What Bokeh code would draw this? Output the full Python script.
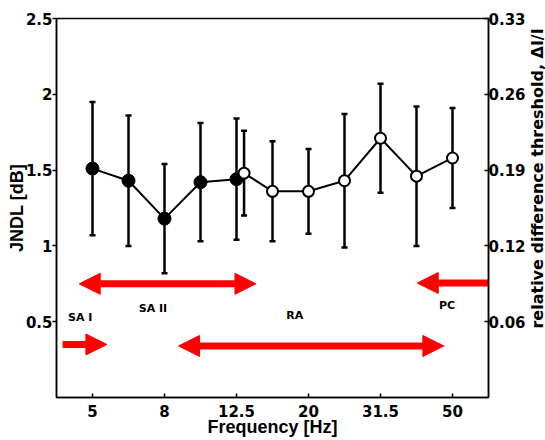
import math
from bokeh.plotting import figure
from bokeh.layouts import row
from bokeh.models import (Range1d, LinearAxis, FixedTicker, Arrow, NormalHead,
                          Whisker, ColumnDataSource, Label, TeeHead)
from bokeh.embed import file_html
from bokeh.resources import INLINE

# one-third octave bands (Hz); x positions are band indices
bands = ["5", "6.3", "8", "10", "12.5", "16", "20", "25", "31.5", "40", "50"]
tick_bands = ["5", "8", "12.5", "20", "31.5", "50"]

# filled series
sa_bands = ["5", "6.3", "8", "10", "12.5"]
sa_mean = [1.51, 1.43, 1.18, 1.42, 1.44]
sa_upper = [1.95, 1.86, 1.54, 1.81, 1.84]
sa_lower = [1.07, 1.00, 0.82, 1.03, 1.04]

# open series
ra_bands = ["12.5", "16", "20", "25", "31.5", "40", "50"]
ra_mean = [1.48, 1.36, 1.36, 1.43, 1.71, 1.46, 1.58]
ra_upper = [1.76, 1.69, 1.64, 1.87, 2.07, 1.92, 1.91]
ra_lower = [1.20, 1.03, 1.08, 0.99, 1.35, 1.00, 1.25]

# left ticks (JNDL) and right-axis relative threshold labels
jndl_ticks = [0.5, 1.0, 1.5, 2.0, 2.5]
jndl_labels = ["0.5", "1", "1.5", "2", "2.5"]
rel_labels = ["0.06", "0.12", "0.19", "0.26", "0.33"]

# receptor channel ranges (band-index units) and levels (dB axis)
rec_names = ["SA I", "SA II", "RA", "PC"]
rec_start = [-0.83, -0.37, 2.39, 11.0]
rec_end = [0.40, 4.54, 9.76, 9.02]
rec_level = [0.35, 0.75, 0.34, 0.755]
rec_double = [False, True, True, False]
rec_label_x = [-0.34, 1.68, 5.62, 9.85]
rec_label_y = [0.525, 0.585, 0.54, 0.607]

OVERLAP_SHIFT = 0.21  # open marker at the shared 12.5 Hz band sits slightly right

LABEL_FONT = "Liberation Sans"
TICK_FONT = "DejaVu Sans"

sa_x = [bands.index(b) for b in sa_bands]
ra_x = [bands.index(b) + (OVERLAP_SHIFT if b in sa_bands else 0) for b in ra_bands]

p = figure(width=528, height=440, x_range=Range1d(-1, 11), y_range=Range1d(0, 2.5),
           output_backend="svg", toolbar_location=None,
           min_border_left=56, min_border_right=37, min_border_top=18, min_border_bottom=43)
p.xgrid.visible = False
p.ygrid.visible = False
p.outline_line_color = "black"
p.outline_line_width = 1.5
p.background_fill_color = "white"
p.border_fill_color = "white"

# receptor arrows and names
for name, xs, xe, lv, dbl, lx, ly in zip(rec_names, rec_start, rec_end, rec_level,
                                          rec_double, rec_label_x, rec_label_y):
    head = lambda: NormalHead(size=21, fill_color="red", line_color="red", line_width=1)
    arr = Arrow(x_start=xs, y_start=lv, x_end=xe, y_end=lv, line_color="red", line_width=7,
                end=head(), start=head() if dbl else None, level="underlay")
    p.add_layout(arr)
    p.add_layout(Label(x=lx, y=ly, text=name, text_font=TICK_FONT, text_font_style="bold",
                       text_font_size="11px", text_align="center", text_baseline="middle",
                       text_color="black"))

# error bars
src_sa = ColumnDataSource(dict(x=sa_x, m=sa_mean, u=sa_upper, l=sa_lower))
src_ra = ColumnDataSource(dict(x=ra_x, m=ra_mean, u=ra_upper, l=ra_lower))
for src in (src_sa, src_ra):
    w = Whisker(source=src, base="x", upper="u", lower="l", dimension="height",
                line_color="black", line_width=2.5, level="underlay",
                upper_head=TeeHead(size=6, line_width=2.5, line_color="black"),
                lower_head=TeeHead(size=6, line_width=2.5, line_color="black"))
    p.add_layout(w)

p.line("x", "m", source=src_sa, line_color="black", line_width=2)
p.line("x", "m", source=src_ra, line_color="black", line_width=2)
p.scatter("x", "m", source=src_sa, size=13, fill_color="black", line_color="black")
p.scatter("x", "m", source=src_ra, size=11, fill_color="white", line_color="black", line_width=2)

# axes
tick_pos = [bands.index(b) for b in tick_bands]
xa = p.xaxis[0]
xa.ticker = FixedTicker(ticks=tick_pos)
xa.major_label_overrides = {t: b for t, b in zip(tick_pos, tick_bands)}
xa.axis_label = "Frequency [Hz]"
xa.major_tick_in = 4
xa.major_tick_out = 0
xa.major_label_standoff = 7
xa.axis_label_standoff = -3

ya = p.yaxis[0]
ya.ticker = FixedTicker(ticks=jndl_ticks)
ya.major_label_overrides = {t: s for t, s in zip(jndl_ticks, jndl_labels)}
ya.axis_label = "JNDL [dB]"
ya.major_tick_in = 0
ya.major_tick_out = 4
ya.major_label_standoff = 0
ya.axis_label_standoff = -4

ra_axis = LinearAxis(ticker=FixedTicker(ticks=jndl_ticks),
                     major_label_overrides={t: s for t, s in zip(jndl_ticks, rel_labels)})
ra_axis.major_tick_in = 4
ra_axis.major_tick_out = 0
ra_axis.major_label_standoff = 0
p.add_layout(ra_axis, "right")

for ax in (xa, ya, ra_axis):
    ax.minor_tick_line_color = None
    ax.axis_line_color = "black"
    ax.axis_line_width = 1.5
    ax.major_tick_line_width = 1.5
    ax.major_label_text_font = TICK_FONT
    ax.major_label_text_font_style = "bold"
    ax.major_label_text_font_size = "15px"
    ax.major_label_text_color = "black"
    ax.axis_label_text_font = LABEL_FONT
    ax.axis_label_text_font_style = "bold"
    ax.axis_label_text_font_size = "18px"
    ax.axis_label_text_color = "black"

# narrow strip on the right holding the right-axis title (reads bottom-to-top)
p2 = figure(width=17, height=440, x_range=Range1d(0, 1), y_range=Range1d(0, 2.5),
            output_backend="svg", toolbar_location=None, x_axis_type=None, y_axis_type=None,
            min_border_left=0, min_border_right=0, min_border_top=18, min_border_bottom=43)
p2.outline_line_color = None
p2.background_fill_color = "white"
p2.border_fill_color = "white"
p2.add_layout(Label(x=0.5, y=1.445, text="relative difference threshold, \u0394I/I",
                    angle=math.pi / 2, text_font=TICK_FONT, text_font_style="bold",
                    text_font_size="16px", text_align="center", text_baseline="middle",
                    text_color="black"))

layout = row(p, p2)
open("out.html", "w").write(file_html(layout, INLINE))
